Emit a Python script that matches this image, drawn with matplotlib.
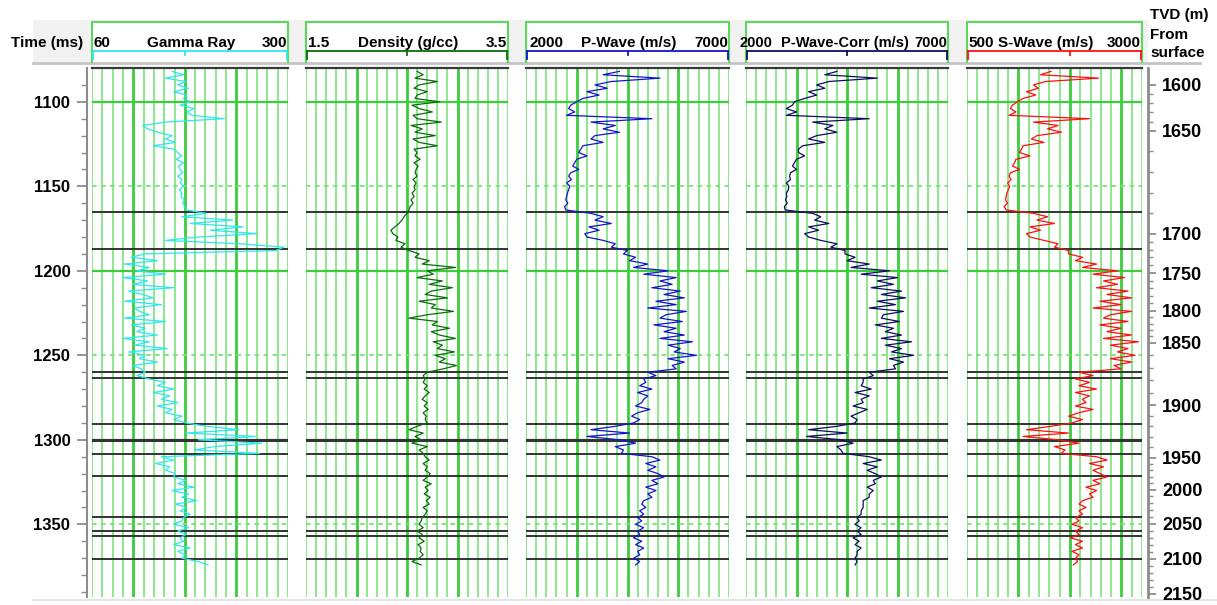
import numpy as np
import matplotlib.pyplot as plt

plt.rcParams['font.family'] = ['Liberation Sans', 'DejaVu Sans']

W, H = 1217, 605
T_TOP, T_BOT = 1080, 1393

# two-way time of each log sample (ms)
time_ms = np.arange(1082, 1375, 2)

gamma_ray = [158, 172, 150, 175, 165, 178, 160, 176,
             172, 180, 168, 185, 176, 182,
             222, 150, 122, 128,
             140, 158, 150, 162, 135, 160,
             165, 170, 163, 172, 166, 168, 171, 165, 170, 168, 172, 167, 170, 169, 173, 171, 174, 176,
             200, 170, 232, 180, 245, 205, 262, 190, 150, 240, 295, 285,
             125, 108, 140, 100, 130, 115, 150, 98, 128, 110, 160, 105, 122, 135, 100, 145, 112, 118,
             130, 100, 150, 108, 125,
             115, 140, 98, 130, 112, 152, 105, 125, 118, 140, 110, 120,
             125, 115, 130,
             150, 140, 160, 135, 155, 145, 165, 140, 158, 150, 170, 160, 175,
             200, 240, 175, 260, 190, 268, 210, 185, 265,
             145, 160, 138, 155, 150, 162,
             160, 175, 165, 185, 158, 178, 170, 188, 162, 176, 168, 180, 172,
             170, 160, 178, 165, 175, 168, 172, 160, 180, 165, 174, 170,
             190, 202]

density = [2.60, 2.66, 2.58, 2.80, 2.62, 2.57, 2.70, 2.60,
           2.58, 2.82, 2.55, 2.62, 2.75, 2.56,
           2.60, 2.84, 2.54, 2.65,
           2.58, 2.78, 2.56, 2.62, 2.80, 2.57,
           2.60, 2.58, 2.63, 2.57, 2.61, 2.59, 2.58, 2.60, 2.56, 2.59, 2.57, 2.58, 2.55, 2.57,
           2.54, 2.56, 2.53, 2.52,
           2.50, 2.47, 2.45, 2.42, 2.38, 2.34, 2.36, 2.41, 2.39, 2.48, 2.44, 2.52,
           2.62, 2.58, 2.72, 2.65, 2.98, 2.70, 2.76, 2.60, 2.85, 2.72, 2.95, 2.74, 2.68, 2.90,
           2.62, 2.78, 2.74, 2.96, 2.70, 2.52, 2.80, 2.75, 2.92,
           2.74, 2.82, 2.98, 2.76, 2.85, 2.80, 2.97, 2.78, 2.88, 2.82, 2.99, 2.86,
           2.70, 2.66, 2.68,
           2.66, 2.70, 2.67, 2.72, 2.68, 2.65, 2.70, 2.67, 2.71, 2.66, 2.69, 2.68, 2.70,
           2.60, 2.52, 2.66, 2.58, 2.64, 2.55, 2.70, 2.62, 2.66,
           2.68, 2.72, 2.66, 2.70, 2.68, 2.73,
           2.70, 2.66, 2.74, 2.68, 2.71, 2.67, 2.73, 2.69, 2.72, 2.66, 2.70, 2.68, 2.65,
           2.64, 2.62, 2.66, 2.60, 2.65, 2.62, 2.67, 2.61, 2.64, 2.63, 2.66, 2.62,
           2.55, 2.64]

p_wave = [4300, 3900, 5300, 4100, 3700, 4000, 3500, 3800,
          3400, 3250, 3100, 3050, 3200, 3000,
          5100, 3600, 4200, 3900,
          4300, 3700, 3600, 3900, 3400, 3350,
          3300, 3500, 3250, 3200, 3150, 3300, 3100, 3050, 3120, 3000, 3080, 3050, 3020, 3000,
          2980, 3030, 2950, 2980,
          3600, 3900, 3700, 4100, 3550, 3800, 3450, 3500, 3900, 4200, 4100, 4500,
          4400, 4700, 4550, 5000, 4650, 5500, 4900, 5700, 5300, 5600, 5100, 5800, 5400, 5900,
          5200, 5700, 5000, 5950, 5450, 5300, 5850, 5150, 5700,
          5400, 5900, 5300, 6100, 5500, 5800, 5650, 6200, 5500, 5900, 5600, 5700,
          5000, 5200, 4900,
          4950, 4800, 5100, 4750, 5000, 4900, 4850, 4700, 5050, 4750, 4600, 4800, 4650,
          4200, 3600, 4550, 3500, 4300, 4700, 4200, 4400, 4350,
          5100, 5300, 4950, 5200, 5000, 5250,
          5400, 5100, 5250, 4950, 5200, 5000, 5100, 4900, 4850, 4950, 4800, 4900, 4750,
          4850, 4700, 4900, 4750, 4800, 4650, 4850, 4700, 4900, 4750, 4800, 4650,
          4800, 4700]

p_wave_corr = [4250, 3950, 5250, 4050, 3750, 3950, 3550, 3750,
               3450, 3200, 3150, 3000, 3250, 3000,
               5050, 3650, 4150, 3950,
               4250, 3750, 3550, 3950, 3400, 3300,
               3300, 3450, 3250, 3200, 3150, 3250, 3100, 3080, 3100, 3000, 3060, 3050, 3000, 3010,
               2980, 3020, 2950, 2970,
               3650, 3850, 3700, 4050, 3550, 3800, 3450, 3550, 3850, 4250, 4100, 4450,
               4450, 4700, 4500, 5050, 4600, 5550, 4850, 5750, 5250, 5650, 5100, 5850, 5350, 5950,
               5250, 5700, 5050, 5900, 5400, 5350, 5800, 5200, 5650,
               5450, 5850, 5350, 6100, 5450, 5850, 5600, 6150, 5550, 5900, 5650, 5700,
               5050, 5150, 4900,
               4900, 4850, 5100, 4700, 5050, 4850, 4900, 4650, 5000, 4800, 4600, 4750, 4700,
               4250, 3550, 4500, 3500, 4350, 4650, 4250, 4350, 4400,
               5050, 5350, 4900, 5250, 5000, 5200,
               5350, 5150, 5200, 5000, 5150, 5050, 5050, 4900, 4900, 4900, 4850, 4850, 4750,
               4800, 4700, 4850, 4750, 4850, 4650, 4800, 4700, 4850, 4750, 4750, 4700,
               4750, 4700]

s_wave = [1700, 1550, 2380, 1620, 1450, 1520, 1350, 1480,
          1300, 1220, 1150, 1120, 1200, 1100,
          2250, 1450, 1800, 1650,
          1850, 1500, 1420, 1600, 1300, 1280,
          1250, 1400, 1200, 1180, 1150, 1250, 1120, 1100, 1130, 1080, 1110, 1090, 1070, 1060,
          1050, 1080, 1030, 1060,
          1450, 1650, 1500, 1750, 1400, 1550, 1350, 1400, 1600, 1800, 1750, 1950,
          1950, 2150, 2050, 2350, 2150, 2650, 2300, 2750, 2450, 2650, 2350, 2800, 2500, 2850,
          2400, 2700, 2300, 2850, 2550, 2450, 2800, 2400, 2700,
          2500, 2850, 2450, 2950, 2550, 2800, 2650, 2900, 2550, 2850, 2600, 2700,
          2100, 2300, 2050,
          2250, 2100, 2350, 2050, 2250, 2150, 2200, 2050, 2300, 2100, 1950, 2150, 2000,
          1700, 1350, 1950, 1300, 1800, 2100, 1750, 1900, 1850,
          2350, 2500, 2250, 2450, 2300, 2400,
          2500, 2300, 2400, 2200, 2350, 2250, 2300, 2150, 2100, 2200, 2100, 2150, 2050,
          2100, 2000, 2150, 2050, 2100, 1980, 2150, 2050, 2150, 2000, 2100, 2050,
          2080, 2020]

# picked horizons (ms)
horizons_ms = [1165, 1187, 1259.8, 1263.3, 1290.8, 1300, 1308.5, 1321.6,
               1345.7, 1354, 1357.1, 1370.7]

# time-depth pairs for the right-hand TVD scale
tvd_labels = [1600, 1650, 1700, 1750, 1800, 1850, 1900, 1950, 2000, 2050, 2100, 2150]
tvd_times = [1089.9, 1117.2, 1178.2, 1201.3, 1223.6, 1242.6, 1279.5, 1310.5,
             1329.5, 1349.6, 1370.3, 1391.1]

# name, left value, right value, curve colour, pixel extent, grid divisions, bold divisions
tracks = [
    ('Gamma Ray', 60, 300, '#2fe6ee', (92, 288), 19, (4, 9, 14), gamma_ray),
    ('Density (g/cc)', 1.5, 3.5, '#0b6b0b', (306, 508), 20, (5, 10, 15), density),
    ('P-Wave (m/s)', 2000, 7000, '#1414cc', (526, 729), 20, (5, 10, 15), p_wave),
    ('P-Wave-Corr (m/s)', 2000, 7000, '#0d0d5e', (746, 948), 20, (5, 10, 15), p_wave_corr),
    ('S-Wave (m/s)', 500, 3000, '#ff1010', (967, 1142), 17, (5, 10, 15), s_wave),
]

Y0, Y1 = 68, 597


def rect(x0, x1):
    return [x0 / W, 1 - Y1 / H, (x1 - x0) / W, (Y1 - Y0) / H]


fig = plt.figure(figsize=(W / 100, H / 100), dpi=100)

# header overlay in pixel units
hdr = fig.add_axes([0, 0, 1, 1])
hdr.set_xlim(0, W)
hdr.set_ylim(H, 0)
hdr.axis('off')
hdr.add_patch(plt.Rectangle((33, 20), 1115, 42, color='#f1f1f1', lw=0))
hdr.plot([33, 1200], [63, 63], color='#c4c4c4', lw=2)
hdr.plot([33, 1217], [600, 600], color='#e4e4e4', lw=1.5)
hdr.text(47, 43, 'Time (ms)', ha='center', va='center', fontsize=11, fontweight='bold')
hdr.text(1150, 15, 'TVD (m)', ha='left', va='center', fontsize=11, fontweight='bold')
hdr.text(1150, 35, 'From', ha='left', va='center', fontsize=11, fontweight='bold')
hdr.text(1150, 53, 'surface', ha='left', va='center', fontsize=11, fontweight='bold')

label_x = [191, 408, 629, 845, 1046]
left_x = [93, 308, 530, 740, 968]
label_fs = [11, 11, 11, 10.5, 11]
for (name, lo, hi, col, (x0, x1), nd, bold, vals), cx, lx, fs in zip(
        tracks, label_x, left_x, label_fs):
    hdr.add_patch(plt.Rectangle((x0, 22), x1 - x0, 40, facecolor='white',
                                edgecolor='none'))
    hdr.plot([x0, x0, x1, x1], [62, 22, 22, 62], color='#5cd65c', lw=1.5)
    hdr.plot([x0 + 1, x1 - 1], [51, 51], color=col, lw=1.3)
    for xx, ln in ((x0 + 1, 8), (x1 - 1, 8), (x0 + (x1 - x0) * bold[1] / nd, 4)):
        hdr.plot([xx, xx], [51, 51 + ln], color=col, lw=1.3)
    hdr.text(lx, 43, f'{lo:g}', ha='left', va='center', fontsize=fs, fontweight='bold')
    hdr.text(cx, 43, name, ha='center', va='center', fontsize=fs, fontweight='bold')
    hdr.text(x1 - 1, 43, f'{hi:g}', ha='right', va='center', fontsize=fs,
             fontweight='bold')

# time axis (left) and TVD axis (right)
bg = fig.add_axes(rect(87, 1148))
bg.set_ylim(T_BOT, T_TOP)
bg.set_xlim(0, 1)
bg.set_xticks([])
bg.patch.set_alpha(0)
for s in ('top', 'bottom'):
    bg.spines[s].set_visible(False)
bg.spines['left'].set_color('#8c8c8c')
bg.spines['left'].set_linewidth(1.5)
bg.spines['right'].set_visible(False)
bg.set_yticks(range(1100, 1351, 50))
bg.set_yticks(range(1090, 1391, 10), minor=True)
bg.tick_params(axis='y', which='major', length=7, width=1.3, color='#8c8c8c',
               labelsize=12, pad=5)
bg.tick_params(axis='y', which='minor', length=4, width=1, color='#8c8c8c')
for lab in bg.get_yticklabels():
    lab.set_fontweight('bold')

tvd = bg.twinx()
tvd.set_ylim(T_BOT, T_TOP)
for s in ('top', 'bottom', 'left'):
    tvd.spines[s].set_visible(False)
tvd.spines['right'].set_color('#8c8c8c')
tvd.spines['right'].set_linewidth(2)
tvd.set_yticks(tvd_times)
tvd.set_yticklabels([str(v) for v in tvd_labels])
minor_depths = [d for d in range(1600, 2151, 10) if d % 50]
tvd.set_yticks(np.interp(minor_depths, tvd_labels, tvd_times), minor=True)
tvd.tick_params(axis='y', which='major', length=6, width=1.3, color='#8c8c8c',
                labelsize=13, pad=4)
tvd.tick_params(axis='y', which='minor', length=3.5, width=1, color='#8c8c8c')
for lab in tvd.get_yticklabels():
    lab.set_fontweight('bold')

# log tracks
for name, lo, hi, col, (x0, x1), nd, bold, vals in tracks:
    ax = fig.add_axes(rect(x0, x1))
    ax.set_xlim(lo, hi)
    ax.set_ylim(T_BOT, T_TOP)
    ax.set_xticks([])
    ax.set_yticks([])
    for s in ('left', 'right', 'bottom'):
        ax.spines[s].set_visible(False)
    ax.spines['top'].set_color('#3a3a3a')
    ax.spines['top'].set_linewidth(1.6)
    for k in range(nd + 1):
        xv = lo + (hi - lo) * k / nd
        if k in bold:
            ax.axvline(xv, color='#3ccc3c', lw=2.0, zorder=1)
        else:
            ax.axvline(xv, color='#86e486', lw=1.3, zorder=1)
    for tv in (1100, 1200, 1300):
        ax.axhline(tv, color='#3ccc3c', lw=1.6, zorder=1)
    for tv in (1150, 1250, 1350):
        ax.axhline(tv, color='#7be07b', lw=1.3, ls=(0, (2.5, 2.5)), zorder=1)
    for hz in horizons_ms:
        ax.axhline(hz, color='#333333', lw=2.2 if hz == 1300 else 1.4, zorder=2)
    ax.plot(vals, time_ms, color=col, lw=0.9, zorder=3)

fig.savefig('out.png', dpi=100)
